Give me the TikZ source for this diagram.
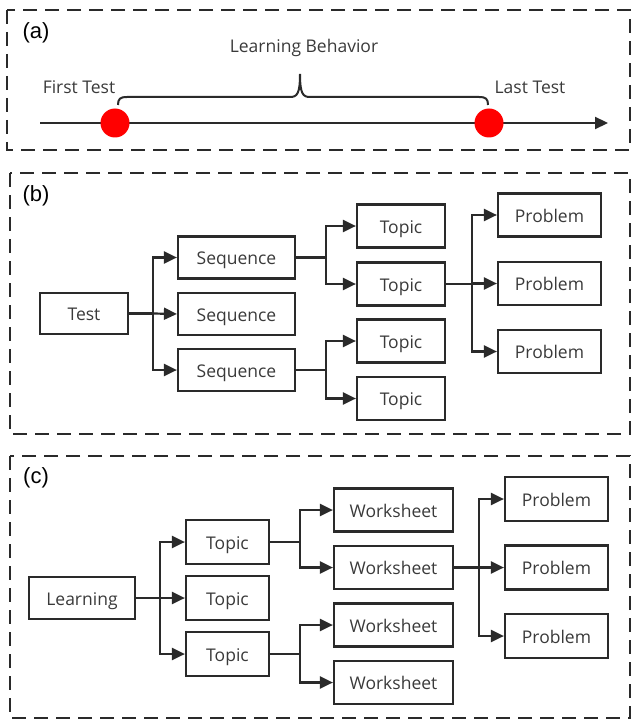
\documentclass[tikz,border=0pt]{standalone}
\usepackage{fontspec}
\setmainfont{Open Sans}
\newfontfamily\lblfont{Liberation Sans}
\usetikzlibrary{arrows.meta}
\definecolor{ink}{HTML}{2A2A2A}
\definecolor{txt}{HTML}{3A3A3A}
\begin{document}
\begin{tikzpicture}[x=1pt,y=-1pt,
  frame/.style={draw=ink,line width=2.4pt,dash pattern=on 14pt off 8pt},
  box/.style={draw=ink,line width=2.2pt,rectangle,inner sep=0pt,text=txt,
    font=\fontsize{17.5}{19}\selectfont,text height=14.5pt,text depth=0pt},
  arr/.style={draw=ink,line width=2.2pt,-{Triangle[length=13pt,width=12pt]}},
  link/.style={draw=ink,line width=2.2pt},
  panel/.style={font=\lblfont\fontsize{22}{24}\selectfont,text=black,anchor=center},
  lab/.style={font=\fontsize{17.5}{19}\selectfont,text=txt,anchor=center},
  dot/.style={circle,fill=red,inner sep=0pt,minimum size=29pt}
]
\useasboundingbox (0,0) rectangle (632,722);

% ---------- frames ----------
\draw[frame] (7,10) rectangle (630,150);
\draw[frame] (10,173) rectangle (630,434);
\draw[frame] (10,456) rectangle (630,718);

\node[panel] (pa) at (36,33) {(a)};
\node[panel] (pb) at (36,196) {(b)};
\node[panel] (pc) at (36,478) {(c)};

% ---------- (a) timeline ----------
\coordinate (tl0) at (40,123);
\coordinate (tl1) at (608,123);
\draw[arr] (tl0) -- (tl1);
\node[dot] (d1) at (115,123) {};
\node[dot] (d2) at (489,123) {};
\node[lab] (ft) at (79,87) {First Test};
\node[lab] (lt) at (530,87) {Last Test};
\node[lab] (lb) at (304,48) {Learning Behavior};
\draw[link,line width=2pt]
  (118,105) .. controls (118,99) and (120,97) .. (127,97) -- (290,97)
  .. controls (297,97) and (300,94) .. (300,74)
  .. controls (300,94) and (303,97) .. (310,97) -- (479,97)
  .. controls (486,97) and (488,99) .. (488,105);

% ---------- (b) ----------
\node[box,minimum width=88pt,minimum height=41pt] (test) at (84,313.5) {Test};
\node[box,minimum width=117pt,minimum height=42pt] (s1) at (236.5,257.5) {Sequence};
\node[box,minimum width=117pt,minimum height=42pt] (s2) at (236.5,314) {Sequence};
\node[box,minimum width=117pt,minimum height=42pt] (s3) at (236.5,370) {Sequence};
\node[box,minimum width=88pt,minimum height=43pt] (t1) at (401,226) {Topic};
\node[box,minimum width=88pt,minimum height=43pt] (t2) at (401,284) {Topic};
\node[box,minimum width=88pt,minimum height=43pt] (t3) at (401,341) {Topic};
\node[box,minimum width=88pt,minimum height=43pt] (t4) at (401,398.5) {Topic};
\node[box,minimum width=103pt,minimum height=43pt] (p1) at (549.5,215) {Problem};
\node[box,minimum width=103pt,minimum height=43pt] (p2) at (549.5,283.5) {Problem};
\node[box,minimum width=103pt,minimum height=43pt] (p3) at (549.5,351.5) {Problem};

\coordinate (jb1) at (153,313.5);
\coordinate (jb2) at (326,257.5);
\coordinate (jb3) at (326,370);
\coordinate (jb4) at (472,284);
\draw[link] (test.east) -- (jb1);
\draw[arr] (jb1) |- (s1.west);
\draw[arr] (jb1) -- (s2.west);
\draw[arr] (jb1) |- (s3.west);
\draw[link] (s1.east) -- (jb2);
\draw[arr] (jb2) |- (t1.west);
\draw[arr] (jb2) |- (t2.west);
\draw[link] (s3.east) -- (jb3);
\draw[arr] (jb3) |- (t3.west);
\draw[arr] (jb3) |- (t4.west);
\draw[link] (t2.east) -- (jb4);
\draw[arr] (jb4) |- (p1.west);
\draw[arr] (jb4) |- (p2.west);
\draw[arr] (jb4) |- (p3.west);

% ---------- (c) ----------
\node[box,minimum width=106pt,minimum height=42pt] (lrn) at (82,598) {Learning};
\node[box,minimum width=83pt,minimum height=44pt] (c1) at (227.5,542) {Topic};
\node[box,minimum width=83pt,minimum height=44pt] (c2) at (227.5,598) {Topic};
\node[box,minimum width=83pt,minimum height=44pt] (c3) at (227.5,654) {Topic};
\node[box,minimum width=119pt,minimum height=43pt] (w1) at (393.5,510) {Worksheet};
\node[box,minimum width=119pt,minimum height=43pt] (w2) at (393.5,567.5) {Worksheet};
\node[box,minimum width=119pt,minimum height=43pt] (w3) at (393.5,625) {Worksheet};
\node[box,minimum width=119pt,minimum height=43pt] (w4) at (393.5,682.5) {Worksheet};
\node[box,minimum width=103pt,minimum height=44pt] (q1) at (556.5,499) {Problem};
\node[box,minimum width=103pt,minimum height=44pt] (q2) at (556.5,567.5) {Problem};
\node[box,minimum width=103pt,minimum height=44pt] (q3) at (556.5,636) {Problem};

\coordinate (jc1) at (160,598);
\coordinate (jc2) at (300,542);
\coordinate (jc3) at (300,654);
\coordinate (jc4) at (479,567.5);
\draw[link] (lrn.east) -- (jc1);
\draw[arr] (jc1) |- (c1.west);
\draw[arr] (jc1) -- (c2.west);
\draw[arr] (jc1) |- (c3.west);
\draw[link] (c1.east) -- (jc2);
\draw[arr] (jc2) |- (w1.west);
\draw[arr] (jc2) |- (w2.west);
\draw[link] (c3.east) -- (jc3);
\draw[arr] (jc3) |- (w3.west);
\draw[arr] (jc3) |- (w4.west);
\draw[link] (w2.east) -- (jc4);
\draw[arr] (jc4) |- (q1.west);
\draw[arr] (jc4) |- (q2.west);
\draw[arr] (jc4) |- (q3.west);
\end{tikzpicture}
\end{document}
